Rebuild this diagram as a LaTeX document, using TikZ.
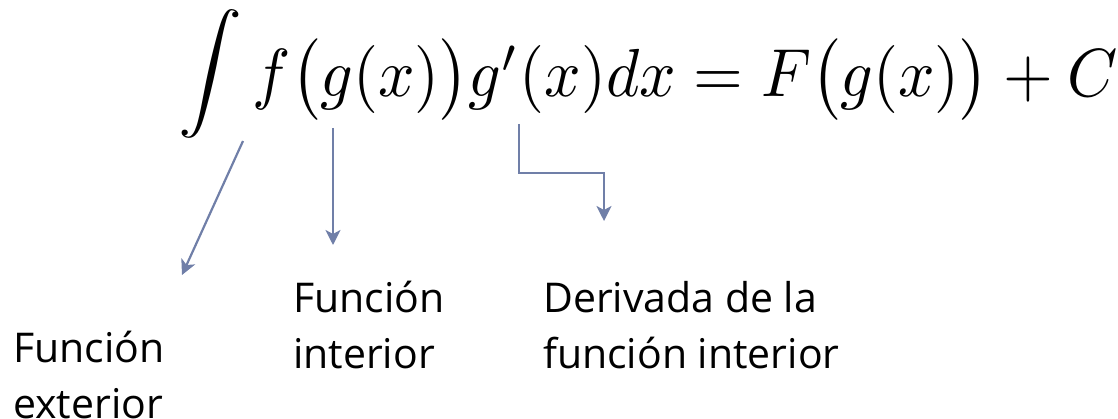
\documentclass[tikz,border=0pt]{standalone}
\usepackage{fontspec}
\setmainfont{Open Sans}
\usepackage{graphicx}
\usetikzlibrary{arrows.meta}
\definecolor{azulgris}{RGB}{112,127,168}
\tikzset{
flecha/.style={
  draw=azulgris,
  line width=2.2pt,
  -{Stealth[length=15pt,width=15pt,inset=4pt]}
  },
etiqueta/.style={
  anchor=north west,
  inner sep=0pt,
  align=left,
  font=\fontsize{41}{56}\selectfont
  }
}

\begin{document}
\begin{tikzpicture}[x=1pt,y=-1pt]
\useasboundingbox (0,0) rectangle (1118,419);

\node[anchor=base west,inner sep=0pt] (formula) at (178,97)
  {\scalebox{6.40}[6.8]{$\raisebox{1.25pt}{\scalebox{1}[0.853]{$\displaystyle\int$}}\,f\bigl(g(x)\bigr)g'(x)dx=F\bigl(g(x)\bigr)+C$}};

\node[etiqueta] (exterior) at (13,331) {Función\\exterior};
\node[etiqueta] (interior) at (293,281) {Función\\interior};
\node[etiqueta] (derivada) at (543,281) {Derivada de la\\función interior};

\coordinate (f) at (243,141);
\coordinate (g) at (333,128);
\coordinate (gp) at (519,124);
\coordinate (codo) at (519,173);
\coordinate (fin1) at (182,275);
\coordinate (fin2) at (333,245);
\coordinate (fin3) at (604,221);

\draw[flecha] (f) -- (fin1);
\draw[flecha] (g) -- (fin2);
\draw[flecha] (gp) -- (codo) -| (fin3);
\end{tikzpicture}
\end{document}
